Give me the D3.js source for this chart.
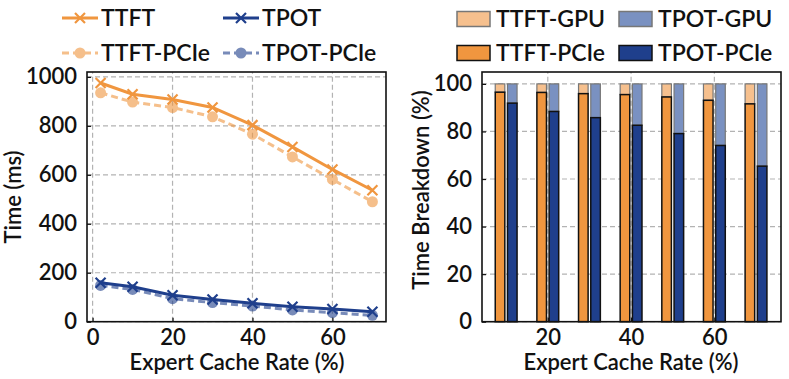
<!DOCTYPE html>
<html>
<head>
<meta charset="utf-8">
<script src="https://cdn.jsdelivr.net/npm/d3@7"></script>
<style>
body { margin: 0; background: #fff; }
svg text { font-family: Lato, "Noto Sans", sans-serif; font-weight: 600; fill: #111; }
</style>
</head>
<body>
<svg width="789" height="379"></svg>
<script>
// left plot data
const cacheRate = [2, 10, 20, 30, 40, 50, 60, 70];
const ttft = [975, 929, 908, 875, 803, 714, 622, 537];
const ttftPcie = [935, 897, 875, 837, 766, 673, 581, 490];
const tpot = [159, 143, 108, 91, 75, 61, 52, 41];
const tpotPcie = [148, 132, 94, 78, 64, 48, 37, 26];
const timeTicks = [0, 200, 400, 600, 800, 1000];
const rateTicks = [0, 20, 40, 60];

// right plot data
const barRates = [10, 20, 30, 40, 50, 60, 70];
const ttftPciePct = [96.5, 96.4, 95.9, 95.5, 94.5, 93.1, 91.6];
const tpotPciePct = [91.9, 88.4, 85.8, 82.6, 79.1, 74.1, 65.4];
const pctTicks = [0, 20, 40, 60, 80, 100];
const barRateTicks = [20, 40, 60];

const ORANGE = '#f0963f';
const BLUE = '#1f3f8c';
const L_ORANGE = '#f6c08e';
const L_BLUE = '#7a91c1';

const svg = d3.select('svg');

function frame(g, x0, x1, y0, y1) {
    g.append('rect')
    .attr('x', x0).attr('y', y1)
    .attr('width', x1 - x0).attr('height', y0 - y1)
    .attr('fill', 'none').attr('stroke', '#111').attr('stroke-width', 1.6);
}

function grid(g, x, y, xt, yt) {
    const [x0, x1] = x.range();
    const [y0, y1] = y.range();
    g.append('g').selectAll('line').data(yt).enter().append('line')
    .attr('x1', x0).attr('x2', x1)
    .attr('y1', d => y(d)).attr('y2', d => y(d))
    .attr('stroke', '#b3b3b3').attr('stroke-width', 1.2).attr('stroke-dasharray', '5,3');
    g.append('g').selectAll('line').data(xt).enter().append('line')
    .attr('y1', y0).attr('y2', y1)
    .attr('x1', d => x(d)).attr('x2', d => x(d))
    .attr('stroke', '#b3b3b3').attr('stroke-width', 1.2).attr('stroke-dasharray', '5,3');
}

function axes(g, x, y, xt, yt) {
    const [y0] = y.range();
    const [x0] = x.range();
    const ax = g.append('g').attr('transform', `translate(0,${y0})`)
    .call(d3.axisBottom(x).tickValues(xt).tickFormat(d3.format('d')).tickSize(-4).tickPadding(8));
    const ay = g.append('g').attr('transform', `translate(${x0},0)`)
    .call(d3.axisLeft(y).tickValues(yt).tickFormat(d3.format('d')).tickSize(-4).tickPadding(10));
    [ax, ay].forEach(a => {
        a.select('.domain').remove();
        a.selectAll('line').attr('stroke', '#111').attr('stroke-width', 1.2);
        a.selectAll('text').attr('font-size', 22).attr('font-family', 'Lato, sans-serif')
        .attr('font-weight', 600).attr('fill', '#111');
    });
}

// ---- left plot ----
const gl = svg.append('g');
const xl = d3.scaleLinear().domain([-1.4, 73.4]).range([87, 386]);
const yl = d3.scaleLinear().domain([0, 1020]).range([321.7, 72]);
grid(gl, xl, yl, rateTicks, timeTicks);

const series = [
    {name: 'TTFT-PCIe', vals: ttftPcie, color: ORANGE, op: 0.6, dash: '7,4', mark: 'o'},
    {name: 'TPOT-PCIe', vals: tpotPcie, color: BLUE, op: 0.6, dash: '7,4', mark: 'o'},
    {name: 'TTFT', vals: ttft, color: ORANGE, op: 1, dash: null, mark: 'x'},
    {name: 'TPOT', vals: tpot, color: BLUE, op: 1, dash: null, mark: 'x'}
];
const line = d3.line().x((d, i) => xl(cacheRate[i])).y(d => yl(d));

function drawMark(g, mark, cx, cy, color) {
    if (mark === 'o') {
        g.append('circle').attr('cx', cx).attr('cy', cy).attr('r', 5.5).attr('fill', color);
    } else {
        const s = 5;
        g.append('path')
        .attr('d', `M${cx - s},${cy - s}L${cx + s},${cy + s}M${cx - s},${cy + s}L${cx + s},${cy - s}`)
        .attr('stroke', color).attr('stroke-width', 2.2).attr('fill', 'none');
    }
}

series.forEach(s => {
    const g = gl.append('g').attr('opacity', s.op);
    g.append('path').datum(s.vals).attr('d', line)
    .attr('fill', 'none').attr('stroke', s.color).attr('stroke-width', 3)
    .attr('stroke-dasharray', s.dash);
    s.vals.forEach((v, i) => drawMark(g, s.mark, xl(cacheRate[i]), yl(v), s.color));
});
frame(gl, 87, 386, 321.7, 72);
axes(gl, xl, yl, rateTicks, timeTicks);

gl.append('text').attr('transform', 'translate(21,197) rotate(-90)')
.attr('text-anchor', 'middle').attr('font-size', 22).text('Time (ms)');
gl.append('text').attr('x', 237).attr('y', 370)
.attr('text-anchor', 'middle').attr('font-size', 22).text('Expert Cache Rate (%)');

// left legend
const legL = [
    {s: series[2], x: 62, y: 18},
    {s: series[3], x: 223, y: 18},
    {s: series[0], x: 62, y: 53},
    {s: series[1], x: 223, y: 53}
];
legL.forEach(l => {
    const g = gl.append('g').attr('opacity', l.s.op);
    g.append('line').attr('x1', l.x).attr('x2', l.x + 36).attr('y1', l.y).attr('y2', l.y)
    .attr('stroke', l.s.color).attr('stroke-width', 3).attr('stroke-dasharray', l.s.dash);
    drawMark(g, l.s.mark, l.x + 18, l.y, l.s.color);
    gl.append('text').attr('x', l.x + 39).attr('y', l.y + 8).attr('font-size', 23).text(l.s.name);
});

// ---- right plot ----
const gr = svg.append('g');
const xr = d3.scaleLinear().domain([4.2, 76]).range([482, 781]);
const yr = d3.scaleLinear().domain([0, 105]).range([321.7, 72]);
grid(gr, xr, yr, barRateTicks, pctTicks);

const bw = 2.3;
const off = 1.47;
const barSets = [
    {vals: ttftPciePct, dx: -off, base: ORANGE, top: L_ORANGE},
    {vals: tpotPciePct, dx: off, base: BLUE, top: L_BLUE}
];
barSets.forEach(b => {
    const g = gr.append('g');
    g.selectAll('rect.top').data(b.vals).enter().append('rect')
    .attr('x', (d, i) => xr(barRates[i] + b.dx - bw / 2))
    .attr('width', xr(bw) - xr(0))
    .attr('y', yr(100))
    .attr('height', d => yr(d) - yr(100))
    .attr('fill', b.top).attr('stroke', '#777').attr('stroke-width', 1.2);
    g.selectAll('rect.base').data(b.vals).enter().append('rect')
    .attr('x', (d, i) => xr(barRates[i] + b.dx - bw / 2))
    .attr('width', xr(bw) - xr(0))
    .attr('y', d => yr(d))
    .attr('height', d => yr(0) - yr(d))
    .attr('fill', b.base).attr('stroke', '#111').attr('stroke-width', 1.5);
});
frame(gr, 482, 781, 321.7, 72);
axes(gr, xr, yr, barRateTicks, pctTicks);

gr.append('text').attr('transform', 'translate(429,190) rotate(-90)')
.attr('text-anchor', 'middle').attr('font-size', 22).text('Time Breakdown (%)');
gr.append('text').attr('x', 631).attr('y', 370)
.attr('text-anchor', 'middle').attr('font-size', 22).text('Expert Cache Rate (%)');

// right legend
const legR = [
    {name: 'TTFT-GPU', fill: L_ORANGE, stroke: '#777', x: 457, y: 19},
    {name: 'TPOT-GPU', fill: L_BLUE, stroke: '#777', x: 619, y: 19},
    {name: 'TTFT-PCIe', fill: ORANGE, stroke: '#111', x: 457, y: 53},
    {name: 'TPOT-PCIe', fill: BLUE, stroke: '#111', x: 619, y: 53}
];
legR.forEach(l => {
    gr.append('rect').attr('x', l.x).attr('y', l.y - 7.5).attr('width', 33).attr('height', 15)
    .attr('fill', l.fill).attr('stroke', l.stroke).attr('stroke-width', 1.5);
    gr.append('text').attr('x', l.x + 39).attr('y', l.y + 8).attr('font-size', 23).text(l.name);
});
</script>
</body>
</html>
